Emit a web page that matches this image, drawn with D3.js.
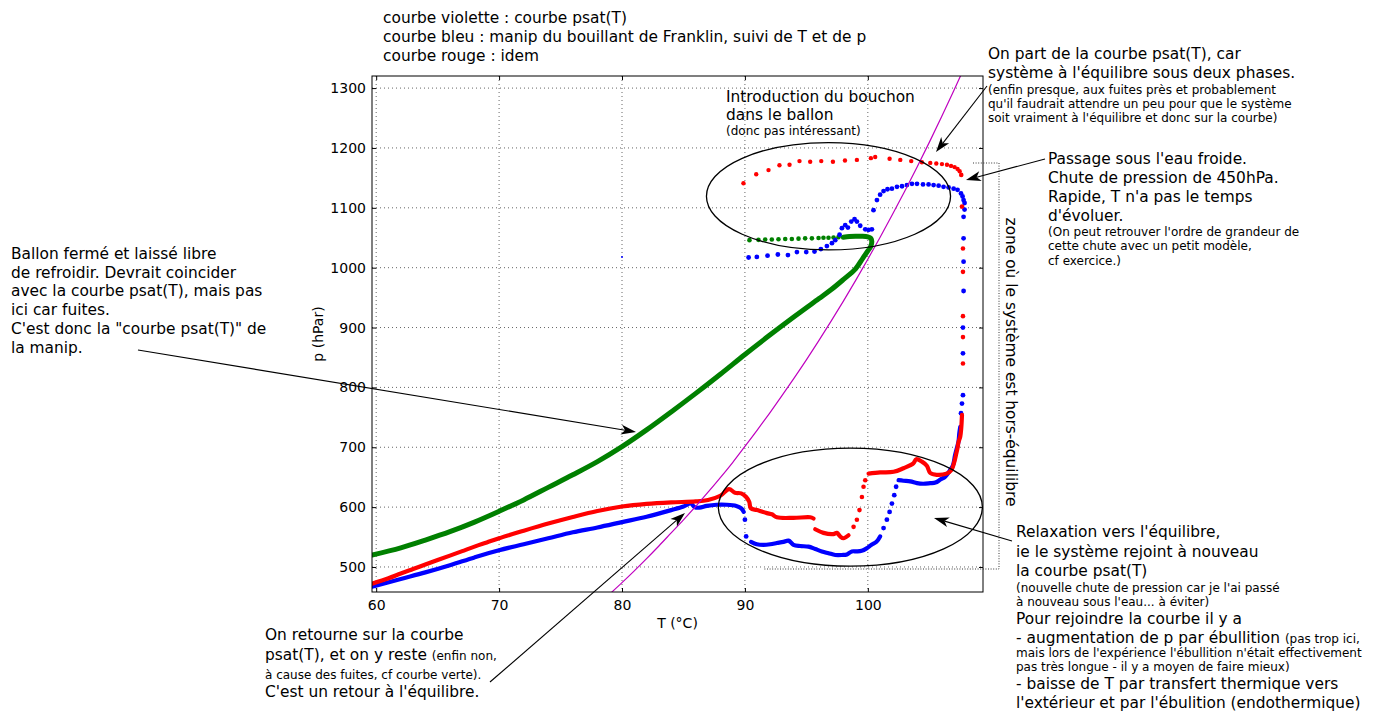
<!DOCTYPE html>
<html><head><meta charset="utf-8">
<script src="https://cdn.jsdelivr.net/npm/d3@7"></script>
<style>
body{margin:0;background:#fff;}
svg{display:block;font-family:"DejaVu Sans",sans-serif;}
</style></head><body>
<svg id="chart" width="1377" height="717"></svg>
<script>
// ---- saturation pressure of water (°C -> hPa), steam table ----
const psatT = [79,80,81,82,83,84,85,86,87,88,89,90,91,92,93,94,95,96,97,98,99,100,101,102,103,104,105,106,107,108];
const psatP = [454.8,473.9,493.6,514.0,535.1,556.9,578.7,601.4,624.9,649.3,674.5,701.4,728.6,756.7,785.7,815.6,846.1,877.7,910.3,943.8,978.4,1014.2,1050.9,1088.7,1127.7,1167.9,1209.3,1252.0,1295.9,1341.1];

// ---- green: closed flask left to cool (dense record, then the hook) ----
const greenTraceT = [59.66,62,64,66,68,70,72,74,76,78,80,82,84,86,88,90,92,94,96,97,98,99,99.6,100.0,100.25,100.32,100.25,100.0,99.5,99.0,98.5,98.0];
const greenTraceP = [520,532,545,559,575,593,612,633,654,676,701,729,759,790,822,855,887,918,948,963,980,998,1016,1028,1036,1044,1049,1051.5,1052.5,1052.5,1052,1051];
const greenDotT = [90.37,91.1,91.65,92.19,92.73,93.28,93.82,94.36,94.9,95.45,95.99,96.39,96.8,97.21,97.61];
const greenDotP = [1046,1046.5,1047,1047,1047.5,1048,1048,1048.5,1049,1049,1049.5,1050,1050,1050.5,1051];

// ---- blue run ----
const blueLowT = [59.66,62,64,66,68,70,72,74,76,78,80,82,84,85,85.6,85.9,86.3,86.9,87.7,88.5,89.3,89.7,89.9];
const blueLowP = [467,480,491,503,516,528,538,548,558,566,575,584,595,601,606,600,599,602,604,604,602,598,592];
const blueDropT = [90.0,90.1];
const blueDropP = [579,551];
const blueValleyT = [90.5,90.97,91.51,92.06,92.6,93.14,93.55,93.95,94.5,95.17,95.72,96.26,96.8,97.35,97.9,98.3,98.7,99.1,99.5,99.9,100.3,100.7,101.0];
const blueValleyP = [542,538,537,538,540,542,544,537,535,534,530,526,523,520,520,521,526,526,527,531,537,542,551];
const blueRiseT = [101.28,101.55,101.77,101.96,102.15,102.3];
const blueRiseP = [565,579,592,606,620,634];
const blueShelfT = [102.5,102.9,103.45,104.0,104.5,105.08,105.5,105.9,106.3,106.7,106.93,107.1,107.38,107.44,107.52];
const blueShelfP = [645,644,643,640,639,640,641,646,651,662,670,687,710,723,734];
const blueColumnT = [107.58,107.66,107.74,107.74,107.74,107.79,107.79,107.79,107.79];
const blueColumnP = [757,773,787,857,900,961,1010,1049,1085];
const blueTopT = [90.3,90.97,91.84,92.68,93.5,94.23,94.99,95.66,96.18,96.67,97.08,97.35,97.7,97.89,98.16,98.38,98.65,98.92,99.11,99.38,99.79,100.06,100.33,100.46,100.74,101.0,101.28,101.6,101.96,102.37,102.78,103.18,103.59,104.0,104.49,104.94,105.35,105.76,106.16,106.57,106.98,107.3,107.58,107.71,107.79,107.87,107.87];
const blueTopP = [1017,1018,1020,1022,1021,1026,1026,1027,1031,1036,1041,1046,1055,1066,1071,1067,1077,1081,1077,1070,1064,1063,1064,1096,1113,1122,1128,1131,1132,1135,1136,1138,1140,1140,1139,1139,1138,1137,1135,1134,1132,1130,1124,1119,1113,1108,1097];
const blueStrayT = [80.0];
const blueStrayP = [1018];

// ---- red run ----
const redLowT = [59.66,61,62,63,64,65,66,67,68,69,70,72,74,76,78,80,82,84,86,87,88,88.7,89.2,89.7,90.1,90.35,90.48,90.97,91.79,92.19,92.6,93.95,95.31,95.58];
const redLowP = [472,481,489,496.5,504,511.5,519,526.5,534,541,548,560.5,572.5,583.5,593.5,601,605.5,608,609.5,612,619,630,624,623,617,609,598,595,590,588,583,582,583,581];
const redValleyT = [95.72,96.39,97.2,97.48,97.75,98.02,98.43];
const redValleyP = [563,557,555,557,551,548,553];
const redRiseT = [98.84,99.11,99.32,99.52,99.65,99.79];
const redRiseP = [567,579,595,617,634,645];
const redShelfT = [100.06,101.0,102.1,102.9,103.7,103.94,104.4,104.8,105.08,105.6,106.4,106.8,107.08,107.2,107.3,107.38,107.52,107.6,107.66];
const redShelfP = [656,658,659,665,673,680,676,669,657,654,656,662,679,690,699,709,718,732,754];
const redColumnT = [107.74,107.74,107.74,107.74,107.74,107.66,107.6];
const redColumnP = [840,884,919,993,1032,1102,1155];
const redTopT = [89.88,90.92,91.92,92.81,93.63,94.44,95.31,96.21,97.16,98.14,99.11,100.25,100.6,101.77,102.64,103.53,104.4,105.08,105.57,106.03,106.44,106.77,107.06,107.3,107.47];
const redTopP = [1141,1156,1163,1171,1172,1178,1177,1178,1177,1179,1180,1183,1185,1182,1180,1178,1176,1175,1174,1173,1172,1170,1168,1165,1161];

// ---- axes ----
const xTicks = [60,70,80,90,100];
const yTicks = [500,600,700,800,900,1000,1100,1200,1300];
const xLabel = "T (°C)";
const yLabel = "p (hPar)";

// ---- drawing ----
const svg = d3.select("#chart");
const L = 372, R = 983, T = 76, B = 592;
const x = d3.scaleLinear().domain([59.66, 109.37]).range([L, R]);
const y = d3.scaleLinear().domain([458.2, 1320.2]).range([B, T]);

svg.append("defs").append("clipPath").attr("id", "plotClip")
  .append("rect").attr("x", L).attr("y", T).attr("width", R - L).attr("height", B - T);

// grid
const grid = svg.append("g");
grid.selectAll("line.gx").data(xTicks).join("line")
  .attr("x1", d => x(d)).attr("x2", d => x(d)).attr("y1", T).attr("y2", B)
  .attr("stroke", "#666").attr("stroke-width", 1).attr("stroke-dasharray", "1,3");
grid.selectAll("line.gy").data(yTicks).join("line")
  .attr("x1", L).attr("x2", R).attr("y1", d => y(d)).attr("y2", d => y(d))
  .attr("stroke", "#666").attr("stroke-width", 1).attr("stroke-dasharray", "1,3");

// data layer
const plot = svg.append("g").attr("clip-path", "url(#plotClip)");
const zip = (a, b) => a.map((v, i) => [v, b[i]]);
const smooth = d3.line().x(d => x(d[0])).y(d => y(d[1])).curve(d3.curveCatmullRom.alpha(0.5));

function trace(ts, ps, color, w) {
  plot.append("path").datum(zip(ts, ps)).attr("d", smooth)
    .attr("fill", "none").attr("stroke", color).attr("stroke-width", w)
    .attr("stroke-linejoin", "round").attr("stroke-linecap", "round");
}
function dots(ts, ps, color, r) {
  plot.append("g").selectAll("circle").data(zip(ts, ps)).join("circle")
    .attr("cx", d => x(d[0])).attr("cy", d => y(d[1])).attr("r", r).attr("fill", color);
}

const RED = "#ff0000", BLUE = "#0000ff", GREEN = "#008000", VIOLET = "#bf00bf";

trace(greenTraceT, greenTraceP, GREEN, 5);
dots(greenDotT, greenDotP, GREEN, 2.3);

trace(blueLowT, blueLowP, BLUE, 4.2);
dots(blueDropT, blueDropP, BLUE, 2.4);
trace(blueValleyT, blueValleyP, BLUE, 4.2);
dots(blueRiseT, blueRiseP, BLUE, 2.4);
trace(blueShelfT, blueShelfP, BLUE, 4.2);
dots(blueColumnT, blueColumnP, BLUE, 2.4);
dots(blueTopT, blueTopP, BLUE, 2.4);
dots(blueStrayT, blueStrayP, BLUE, 1);

trace(redLowT, redLowP, RED, 4.2);
trace(redValleyT, redValleyP, RED, 4.2);
dots(redRiseT, redRiseP, RED, 2.3);
trace(redShelfT, redShelfP, RED, 4.2);
dots(redColumnT, redColumnP, RED, 2.3);
dots(redTopT, redTopP, RED, 2.2);

plot.append("path").datum(zip(psatT, psatP))
  .attr("d", d3.line().x(d => x(d[0])).y(d => y(d[1])).curve(d3.curveMonotoneX))
  .attr("fill", "none").attr("stroke", VIOLET).attr("stroke-width", 1.2);

// frame and axes
svg.append("rect").attr("x", L).attr("y", T).attr("width", R - L).attr("height", B - T)
  .attr("fill", "none").attr("stroke", "#000").attr("stroke-width", 1);

const fmt = d3.format("d");
svg.append("g").attr("transform", `translate(0,${B})`)
  .call(d3.axisBottom(x).tickValues(xTicks).tickFormat(fmt).tickSizeInner(-4).tickSizeOuter(0).tickPadding(8));
svg.append("g").attr("transform", `translate(${L},0)`)
  .call(d3.axisLeft(y).tickValues(yTicks).tickFormat(fmt).tickSizeInner(-4).tickSizeOuter(0).tickPadding(6));
svg.append("g").attr("transform", `translate(0,${T})`)
  .call(d3.axisTop(x).tickValues(xTicks).tickSizeInner(-4).tickSizeOuter(0).tickFormat(""));
svg.append("g").attr("transform", `translate(${R},0)`)
  .call(d3.axisRight(y).tickValues(yTicks).tickSizeInner(-4).tickSizeOuter(0).tickFormat(""));
svg.selectAll(".domain").remove();
svg.selectAll(".tick text").attr("font-size", 14).attr("font-family", "DejaVu Sans").attr("fill", "#000");
svg.selectAll(".tick line").attr("stroke", "#000");

svg.append("text").attr("x", (L + R) / 2).attr("y", 628).attr("text-anchor", "middle")
  .attr("font-size", 14).text(xLabel);
svg.append("text").attr("transform", `translate(323,${(T + B) / 2}) rotate(-90)`)
  .attr("text-anchor", "middle").attr("font-size", 14).text(yLabel);

// ---- annotations ----
const ann = svg.append("g");
const BIG = 15.4, SMALL = 12;

// ellipses around the transients (centre and radii in data units)
const ellipses = [
  {t: 96.8, p: 1119.3, rt: 9.93, rp: 89.7},
  {t: 98.58, p: 599.9, rt: 10.74, rp: 98.6}
];
ann.selectAll("ellipse").data(ellipses).join("ellipse")
  .attr("cx", d => x(d.t)).attr("cy", d => y(d.p))
  .attr("rx", d => x(d.t + d.rt) - x(d.t)).attr("ry", d => y(d.p) - y(d.p + d.rp))
  .attr("fill", "none").attr("stroke", "#000").attr("stroke-width", 1.3);

// dotted frame of the out-of-equilibrium zone
ann.append("path").attr("d", "M973,163 H999 V569 H763")
  .attr("fill", "none").attr("stroke", "#222").attr("stroke-width", 0.9).attr("stroke-dasharray", "1,1.6");
ann.append("text").attr("transform", "translate(1005.5,362) rotate(90)")
  .attr("text-anchor", "middle").attr("font-size", BIG).text("zone où le système est hors-équilibre");

function arrow(x1, y1, x2, y2) {
  const dx = x2 - x1, dy = y2 - y1, len = Math.hypot(dx, dy);
  const ux = dx / len, uy = dy / len, px = -uy, py = ux;
  const hl = 15, hw = 5, notch = 4;
  const bx = x2 - ux * hl, by = y2 - uy * hl;
  ann.append("line").attr("x1", x1).attr("y1", y1)
    .attr("x2", x2 - ux * (hl - notch)).attr("y2", y2 - uy * (hl - notch))
    .attr("stroke", "#000").attr("stroke-width", 1.1);
  ann.append("path")
    .attr("d", `M${x2},${y2} L${bx + px * hw},${by + py * hw} L${x2 - ux * (hl - notch)},${y2 - uy * (hl - notch)} L${bx - px * hw},${by - py * hw} Z`)
    .attr("fill", "#000");
}
arrow(138, 350, 636, 432);
arrow(490, 682, 685, 513);
arrow(987, 86, 936, 152);
arrow(1045, 159, 966, 180);
arrow(1012, 541, 934, 518);

// text blocks: each line is a list of [size, text] runs
const notes = [
  {x: 383, lines: [
    [22.5, [[BIG, "courbe violette : courbe psat(T)"]]],
    [41.5, [[BIG, "courbe bleu : manip du bouillant de Franklin, suivi de T et de p"]]],
    [60.5, [[BIG, "courbe rouge : idem"]]]]},
  {x: 988, lines: [
    [58.5, [[BIG, "On part de la courbe psat(T), car"]]],
    [77.5, [[BIG, "système à l'équilibre sous deux phases."]]],
    [94, [[SMALL, "(enfin presque, aux fuites près et probablement"]]],
    [108, [[SMALL, "qu'il faudrait attendre un peu pour que le système"]]],
    [122, [[SMALL, "soit vraiment à l'équilibre et donc sur la courbe)"]]]]},
  {x: 726, lines: [
    [102, [[BIG, "Introduction du bouchon"]]],
    [120, [[BIG, "dans le ballon"]]],
    [134.5, [[SMALL, "(donc pas intéressant)"]]]]},
  {x: 1048, lines: [
    [164, [[BIG, "Passage sous l'eau froide."]]],
    [183, [[BIG, "Chute de pression de 450hPa."]]],
    [202, [[BIG, "Rapide, T n'a pas le temps"]]],
    [221, [[BIG, "d'évoluer."]]],
    [236, [[SMALL, "(On peut retrouver l'ordre de grandeur de"]]],
    [250, [[SMALL, "cette chute avec un petit modèle,"]]],
    [264.5, [[SMALL, "cf exercice.)"]]]]},
  {x: 11, lines: [
    [258.5, [[BIG, "Ballon fermé et laissé libre"]]],
    [277.5, [[BIG, "de refroidir. Devrait coincider"]]],
    [296, [[BIG, "avec la courbe psat(T), mais pas"]]],
    [315, [[BIG, "ici car fuites."]]],
    [334, [[BIG, "C'est donc la \"courbe psat(T)\" de"]]],
    [352.5, [[BIG, "la manip."]]]]},
  {x: 265, lines: [
    [640, [[BIG, "On retourne sur la courbe"]]],
    [660, [[BIG, "psat(T), et on y reste "], [SMALL, "(enfin non,"]]],
    [679, [[SMALL, "à cause des fuites, cf courbe verte)."]]],
    [697, [[BIG, "C'est un retour à l'équilibre."]]]]},
  {x: 1016, lines: [
    [537, [[BIG, "Relaxation vers l'équilibre,"]]],
    [557, [[BIG, "ie le système rejoint à nouveau"]]],
    [576, [[BIG, "la courbe psat(T)"]]],
    [592, [[SMALL, "(nouvelle chute de pression car je l'ai passé"]]],
    [605.5, [[SMALL, "à nouveau sous l'eau... à éviter)"]]],
    [624, [[BIG, "Pour rejoindre la courbe il y a"]]],
    [643, [[BIG, "- augmentation de p par ébullition "], [SMALL, "(pas trop ici,"]]],
    [657, [[SMALL, "mais lors de l'expérience l'ébullition n'était effectivement"]]],
    [670.5, [[SMALL, "pas très longue - il y a moyen de faire mieux)"]]],
    [689, [[BIG, "- baisse de T par transfert thermique vers"]]],
    [708, [[BIG, "l'extérieur et par l'ébulition (endothermique)"]]]]}
];
notes.forEach(n => {
  n.lines.forEach(([yy, runs]) => {
    const t = ann.append("text").attr("x", n.x).attr("y", yy).attr("fill", "#000");
    runs.forEach(([s, str]) => t.append("tspan").attr("font-size", s).text(str));
  });
});
</script>
</body></html>
